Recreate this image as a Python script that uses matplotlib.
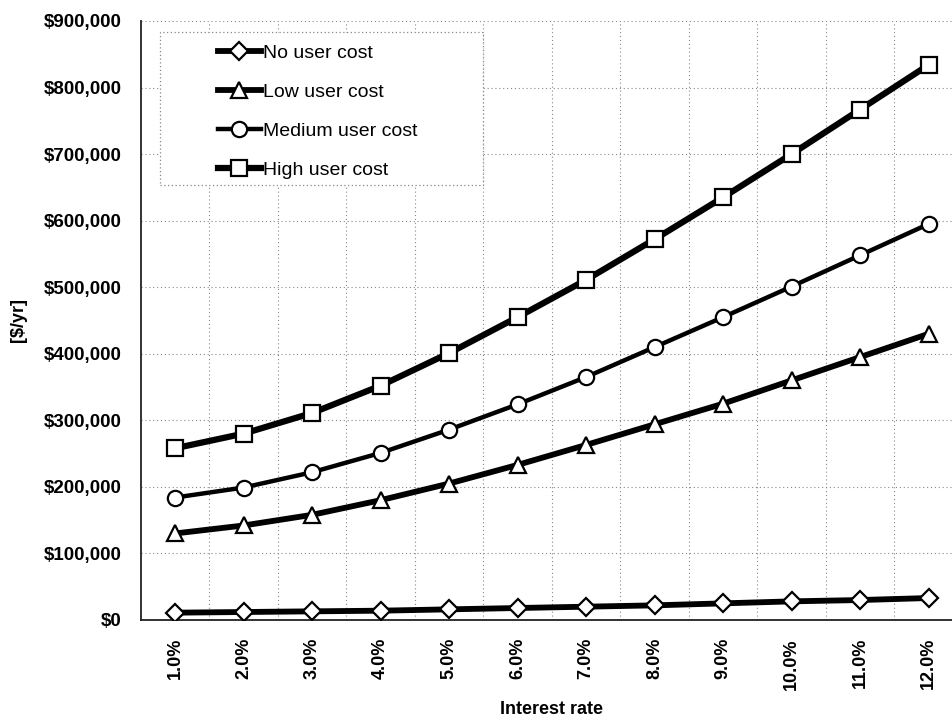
import matplotlib
matplotlib.use("Agg")
import matplotlib.pyplot as plt
from matplotlib.patches import Rectangle
from matplotlib.ticker import FuncFormatter, MultipleLocator, FixedLocator

plt.rcParams['font.family'] = ['Liberation Sans', 'DejaVu Sans']

rates = ["1.0%", "2.0%", "3.0%", "4.0%", "5.0%", "6.0%",
         "7.0%", "8.0%", "9.0%", "10.0%", "11.0%", "12.0%"]
no_user_cost = [11000, 12000, 13000, 14000, 16000, 18000,
                20000, 22000, 25000, 28000, 30000, 33000]
low_user_cost = [130000, 142000, 158000, 180000, 205000, 233000,
                 263000, 294000, 325000, 360000, 395000, 430000]
medium_user_cost = [184000, 199000, 222000, 251000, 286000, 324000,
                    365000, 410000, 455000, 501000, 548000, 595000]
high_user_cost = [258000, 280000, 311000, 352000, 401000, 455000,
                  511000, 572000, 635000, 700000, 767000, 834000]

W, H = 952, 718
fig = plt.figure(figsize=(W / 100, H / 100), dpi=100)
ax = fig.add_axes([140.8 / W, (H - 620) / H, 822 / W, 599 / H])

x = [i + 0.5 for i in range(len(rates))]

series = [
    ("No user cost", no_user_cost, "D", 9, 4.2),
    ("Low user cost", low_user_cost, "^", 12, 4.2),
    ("Medium user cost", medium_user_cost, "o", 11, 3.2),
    ("High user cost", high_user_cost, "s", 11, 4.5),
]
for label, vals, mk, ms, lw in series:
    ax.plot(x, vals, color="black", lw=lw, marker=mk, ms=ms,
            mfc="white", mec="black", mew=1.6, label=label, zorder=3,
            solid_joinstyle="round")

ax.set_xlim(0, len(rates))
ax.set_ylim(0, 900000)
ax.yaxis.set_major_locator(MultipleLocator(100000))
ax.yaxis.set_major_formatter(FuncFormatter(lambda v, p: f"${v:,.0f}"))
ax.set_xticks(x)
ax.set_xticklabels(rates, rotation=90, fontweight="bold", fontsize=13)
for t in ax.get_yticklabels():
    t.set_fontweight("bold")
ax.tick_params(axis="y", length=0, pad=14, labelsize=13.5)
ax.tick_params(axis="x", length=0, pad=13)

# gridlines between categories and at each $100,000
ax.xaxis.set_minor_locator(FixedLocator(range(1, len(rates))))
ax.grid(which="minor", axis="x", color="#888888", lw=0.8, ls=(0, (1, 2.5)))
ax.grid(which="major", axis="y", color="#888888", lw=0.8, ls=(0, (1, 2.5)))
ax.tick_params(which="minor", length=0)
ax.set_axisbelow(True)

for s in ("top", "right"):
    ax.spines[s].set_visible(False)
for s in ("left", "bottom"):
    ax.spines[s].set_color("#222222")
    ax.spines[s].set_linewidth(1.3)

ax.set_ylabel("[$/yr]", fontweight="bold", fontsize=13, labelpad=12)
ax.set_xlabel("Interest rate", fontweight="bold", fontsize=13, labelpad=8)

# legend box
x0 = (160 - 140.8) / 822
y0 = (620 - 185) / 599
ax.add_patch(Rectangle((x0, y0), (483 - 160) / 822, (185 - 32) / 599,
                       transform=ax.transAxes, facecolor="white",
                       edgecolor="#888888", lw=0.9, ls=(0, (1, 2)),
                       zorder=2))
leg = ax.legend(loc="upper left",
                bbox_to_anchor=((222 - 140.8) / 822 - 0.005, (620 - 44) / 599),
                frameon=False, fontsize=14, handlelength=2.2,
                handletextpad=0.12, labelspacing=1.1, borderpad=0,
                borderaxespad=0)
leg.set_zorder(4)

fig.savefig("out.png", dpi=100)
